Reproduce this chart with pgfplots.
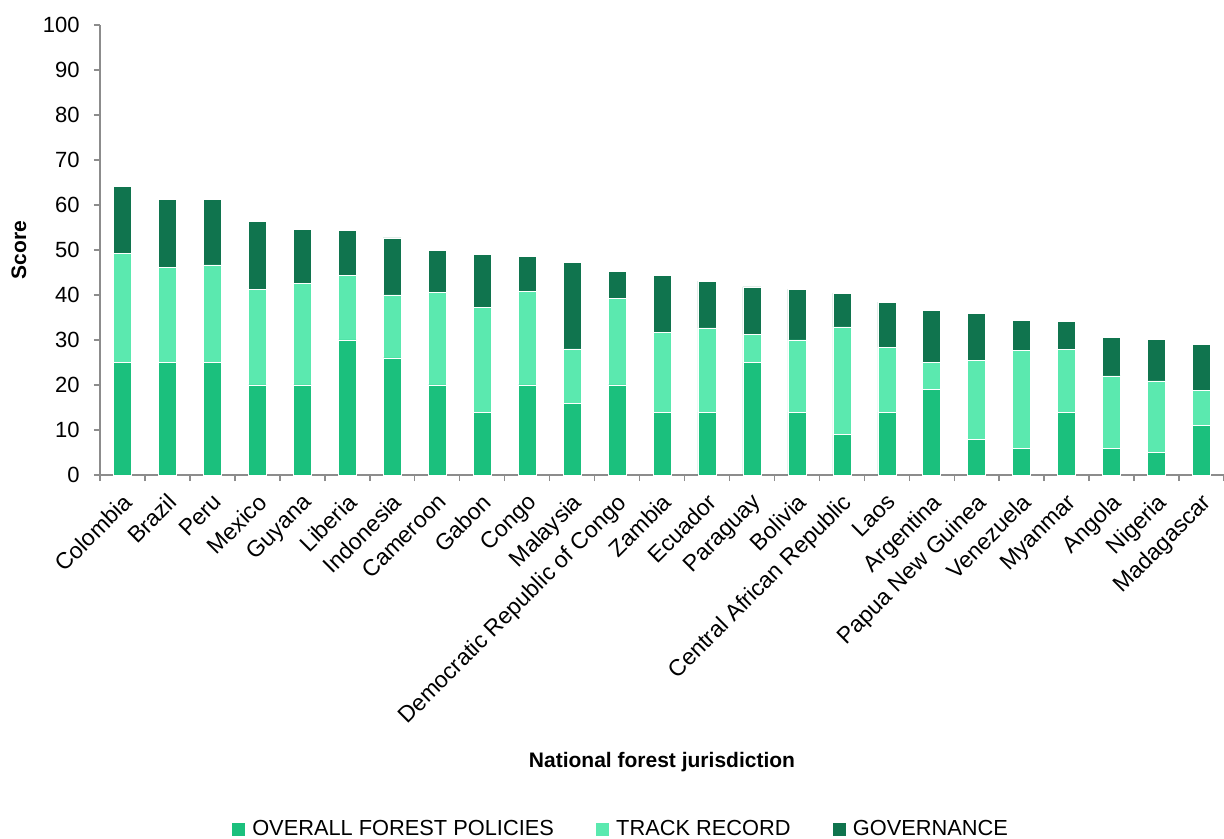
\documentclass[border=0pt]{standalone}
\usepackage{pgfplots}
\usepackage{pgfplotstable}
\pgfplotsset{compat=1.18}
\usepackage{fontspec}
\setmainfont{Liberation Sans}
\definecolor{cOverall}{HTML}{1BC07D}
\definecolor{cTrack}{HTML}{5BE9AF}
\definecolor{cGov}{HTML}{10744E}
\definecolor{axgray}{HTML}{8C8C8C}
\pgfplotstableread{
idx O T G
0 25 24.2 14.9
1 25 21.2 15.1
2 25 21.7 14.6
3 20 21.3 15.0
4 20 22.5 12.1
5 30 14.4 10.0
6 26 14.0 12.7
7 20 20.5 9.4
8 14 23.3 11.8
9 20 20.8 7.8
10 16 12.0 19.3
11 20 19.3 6.0
12 14 17.6 12.8
13 14 18.7 10.4
14 25 6.2 10.6
15 14 16.0 11.3
16 9 23.9 7.5
17 14 14.4 10.0
18 19 6.0 11.5
19 8 17.4 10.5
20 6 21.7 6.6
21 14 13.9 6.2
22 6 16.0 8.6
23 5 15.9 9.3
24 11 7.8 10.2
}\datatable
\begin{document}
\begin{tikzpicture}
\begin{axis}[
  scale only axis,
  width=562pt, height=225pt,
  ybar stacked, bar width=9pt,
  xmin=-0.5, xmax=24.5, ymin=0, ymax=100,
  ytick={0,10,...,100},
  xtick={0,...,24},
  xticklabels={Colombia,Brazil,Peru,Mexico,Guyana,Liberia,Indonesia,Cameroon,Gabon,Congo,Malaysia,Democratic Republic of Congo,Zambia,Ecuador,Paraguay,Bolivia,Central African Republic,Laos,Argentina,Papua New Guinea,Venezuela,Myanmar,Angola,Nigeria,Madagascar},
  minor xtick={-0.5,0.5,...,24.5},
  axis x line*=bottom, axis y line*=left,
  axis line style={axgray, line width=0.75pt, -},
  tick align=outside,
  major tick length=3pt, minor tick length=3pt,
  major x tick style={draw=none},
  every tick/.style={axgray, line width=0.75pt},
  minor x tick style={axgray, line width=0.75pt},
  major y tick style={axgray, line width=0.75pt},
  tick label style={font=\fontsize{11}{13}\selectfont, text=black},
  /pgf/number format/assume math mode=true,
  xticklabel style={yshift=-4pt, xshift=-0.5pt, rotate=45, anchor=north east, inner sep=1pt, font=\fontsize{11.5}{13}\selectfont},
  yticklabel style={inner sep=1pt, xshift=-6pt},
  ylabel={\textbf{Score}},
  ylabel style={at={([xshift=-40.5pt]axis description cs:0,0.5)}, anchor=center, font=\fontsize{10.5}{12}\selectfont},
  xlabel={\textbf{National forest jurisdiction}},
  xlabel style={at={([yshift=-143.5pt]axis description cs:0.5,0)}, anchor=center, font=\fontsize{10.5}{12}\selectfont},
  legend columns=3,
  legend style={at={(0.4644,-0.7867)}, anchor=center, draw=none, fill=none,
    font=\fontsize{10.9}{12}\selectfont, inner sep=0pt,
    /tikz/every even column/.append style={column sep=19pt}},
  legend image code/.code={\path[#1, draw=none] (0pt,-3.25pt) rectangle (6.5pt,3.25pt); \path (8pt,0pt);},
  clip=false,
]
\addplot[fill=cOverall, draw=white, line width=0.3pt] table[x=idx, y=O] {\datatable};
\addplot[fill=cTrack, draw=white, line width=0.3pt] table[x=idx, y=T] {\datatable};
\addplot[fill=cGov, draw=white, line width=0.3pt] table[x=idx, y=G] {\datatable};
\legend{OVERALL FOREST POLICIES, TRACK RECORD, GOVERNANCE}
\end{axis}
\pgfresetboundingbox
\useasboundingbox (-50pt,-182pt) rectangle (562pt,237.5pt);
\end{tikzpicture}
\end{document}
